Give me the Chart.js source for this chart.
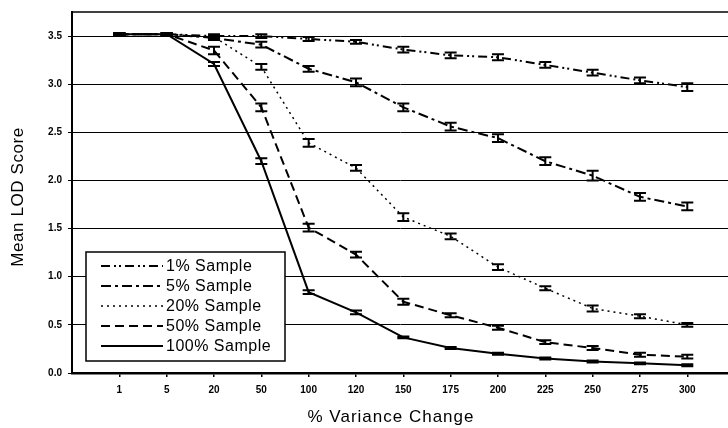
<!DOCTYPE html>
<html><head><meta charset="utf-8">
<script src="https://cdn.jsdelivr.net/npm/chart.js@4/dist/chart.umd.min.js"></script>
<style>html,body{margin:0;padding:0;background:#fff}#wrap{width:728px;height:428px}</style>
</head><body><div id="wrap"><canvas id="c" width="728" height="428"></canvas></div>
<script>
const categories = ['1','5','20','50','100','120','150','175','200','225','250','275','300'];
const yTicks = [0,0.5,1.0,1.5,2.0,2.5,3.0,3.5];
const s1 = [3.52,3.52,3.50,3.50,3.47,3.44,3.36,3.30,3.28,3.20,3.12,3.04,2.97];
const s5 = [3.52,3.52,3.48,3.41,3.16,3.02,2.76,2.56,2.44,2.20,2.05,1.83,1.73];
const s20 = [3.52,3.52,3.49,3.18,2.39,2.13,1.62,1.42,1.10,0.88,0.67,0.59,0.50];
const s50 = [3.52,3.52,3.35,2.76,1.51,1.23,0.74,0.60,0.47,0.32,0.26,0.19,0.17];
const s100 = [3.52,3.52,3.21,2.20,0.84,0.63,0.37,0.26,0.20,0.15,0.12,0.10,0.08];
const e1 = [0.01,0.01,0.02,0.02,0.02,0.02,0.03,0.03,0.03,0.03,0.03,0.03,0.04];
const e5 = [0.01,0.01,0.02,0.03,0.03,0.04,0.04,0.04,0.04,0.04,0.05,0.04,0.04];
const e20 = [0.01,0.01,0.02,0.03,0.04,0.03,0.04,0.03,0.03,0.02,0.03,0.02,0.02];
const e50 = [0.01,0.01,0.04,0.04,0.04,0.03,0.03,0.02,0.02,0.02,0.02,0.02,0.02];
const e100 = [0.01,0.01,0.02,0.03,0.02,0.02,0.01,0.01,0.01,0.01,0.01,0.01,0.01];
const seriesNames = ['1% Sample','5% Sample','20% Sample','50% Sample','100% Sample'];
const xTitle = '% Variance Change';
const yTitle = 'Mean LOD Score';

const pts = arr => arr.map((v,i)=>({x:i+1,y:v}));
const mk = (label, data, err, dash, w) => ({label, data: pts(data), err, borderColor:'#000', borderWidth:w, borderDash:dash, pointRadius:0, fill:false, tension:0});

const datasets = [
  mk(seriesNames[0], s1, e1, [9,4,2,3,2,4], 2),
  mk(seriesNames[1], s5, e5, [10,4,3,4], 2),
  mk(seriesNames[2], s20, e20, [2,4], 1.5),
  mk(seriesNames[3], s50, e50, [9,5], 2),
  mk(seriesNames[4], s100, e100, [], 2),
];

const FONT = '"Liberation Sans", Arial, sans-serif';

const extras = {
  id:'extras',
  afterDatasetsDraw(chart){
    const {ctx, chartArea:a, scales:{x,y}} = chart;
    ctx.save();
    ctx.strokeStyle='#000'; ctx.lineWidth=1.5; ctx.setLineDash([]);
    ctx.beginPath(); ctx.moveTo(a.left,a.top); ctx.lineTo(a.right,a.top); ctx.stroke();
    ctx.lineWidth=2;
    chart.data.datasets.forEach(ds=>{
      ds.data.forEach((p,i)=>{
        const px=x.getPixelForValue(p.x);
        const yt=y.getPixelForValue(p.y+ds.err[i]);
        const yb=y.getPixelForValue(p.y-ds.err[i]);
        ctx.beginPath();
        ctx.moveTo(px,yt); ctx.lineTo(px,yb);
        ctx.moveTo(px-6,yt); ctx.lineTo(px+6,yt);
        ctx.moveTo(px-6,yb); ctx.lineTo(px+6,yb);
        ctx.stroke();
      });
    });
    // legend
    const lx=86, ly=252, lw=199, lh=109;
    ctx.fillStyle='#fff'; ctx.fillRect(lx,ly,lw,lh);
    ctx.lineWidth=1.5; ctx.strokeStyle='#000'; ctx.strokeRect(lx,ly,lw,lh);
    ctx.font='16px '+FONT;
    ctx.letterSpacing='0.5px';
    ctx.textBaseline='middle'; ctx.fillStyle='#000';
    chart.data.datasets.forEach((ds,i)=>{
      const yy = ly+14+i*20;
      ctx.lineWidth=ds.borderWidth;
      ctx.setLineDash(ds.borderDash);
      ctx.beginPath(); ctx.moveTo(lx+15,yy); ctx.lineTo(lx+77,yy); ctx.stroke();
      ctx.setLineDash([]);
      ctx.fillText(ds.label, lx+80, yy+1);
    });
    // axis titles
    ctx.textAlign='center'; ctx.textBaseline='middle';
    ctx.font='17px '+FONT;
    ctx.letterSpacing='1px';
    ctx.fillText(xTitle, 391, 417);
    ctx.translate(18, 197);
    ctx.rotate(-Math.PI/2);
    ctx.font='17px '+FONT;
    ctx.letterSpacing='0.6px';
    ctx.fillText(yTitle, 0, 0);
    ctx.restore();
  }
};

new Chart(document.getElementById('c'), {
  type:'line',
  data:{datasets},
  options:{
    responsive:false, animation:false,
    layout:{padding:{top:10,right:0,left:0,bottom:0}},
    plugins:{legend:{display:false}, tooltip:{enabled:false}},
    scales:{
      x:{type:'linear', min:0, max:13.86,
        afterBuildTicks(s){ s.ticks = categories.map((c,i)=>({value:i+1})); },
        afterFit(s){ s.height=55; },
        ticks:{callback:(v)=>categories[v-1]||'', color:'#000', font:{family:FONT,size:10,weight:'bold'}, padding:7, maxRotation:0, autoSkip:false},
        grid:{drawOnChartArea:false, drawTicks:true, tickLength:4, color:'#000', lineWidth:1.5},
        border:{color:'#000', width:2.5}
      },
      y:{type:'linear', min:0, max:3.75,
        afterBuildTicks(s){ s.ticks = yTicks.map(v=>({value:v})); },
        afterFit(s){ s.width=72; },
        ticks:{callback:(v)=>v.toFixed(1), color:'#000', font:{family:FONT,size:10,weight:'bold'}, padding:6},
        grid:{color:'#000', lineWidth:1, tickLength:4},
        border:{color:'#000', width:2}
      }
    }
  },
  plugins:[extras]
});
</script></body></html>
